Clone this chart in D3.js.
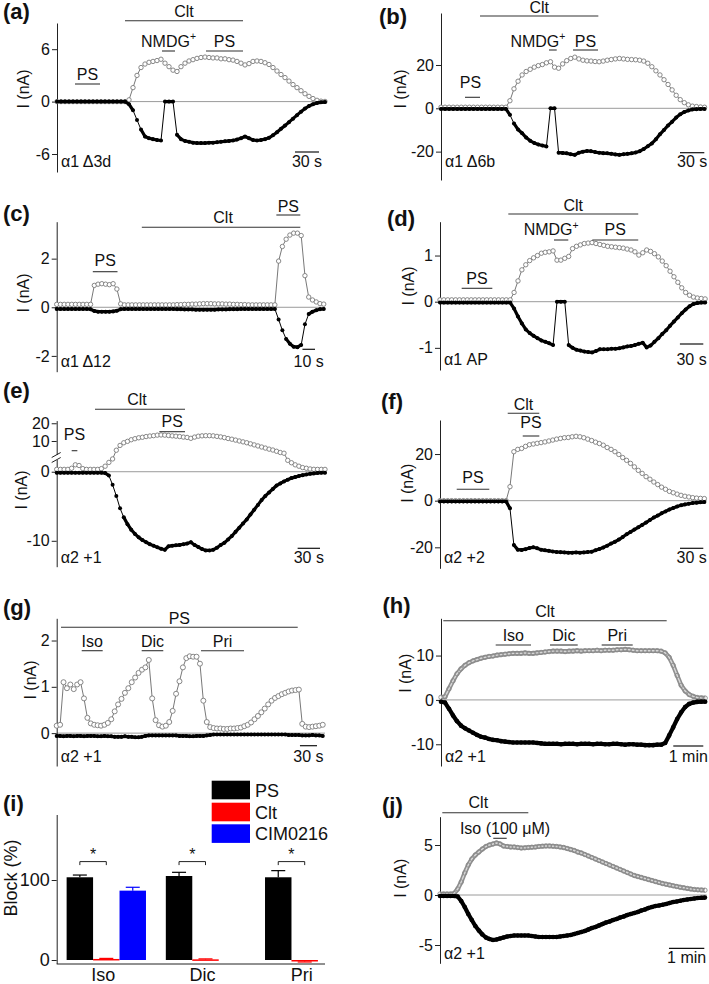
<!DOCTYPE html>
<html><head><meta charset="utf-8">
<script src="https://cdn.jsdelivr.net/npm/d3@7"></script>
<style>
body{margin:0;background:#fff}
svg{display:block}
text{font-family:"Liberation Sans",Arial,sans-serif;fill:#111}
</style>
</head><body>
<svg id="c" width="709" height="984"></svg>
<script>
// ---------------- DATA (currents in nA, sampled at a fixed step in seconds) ----------------
const aOut = [0,0,0,0,0,0,0,0,0,0, 0,0,0,0,0,0,0,0,
 0.2,1.6,3.0,3.9,4.3,4.5,4.6,4.7,4.85,4.4,
 4.0,3.6,3.45,4.0,4.4,4.65,4.8,4.95,5.05,5.1,
 5.05,5.0,5.0,4.9,4.9,4.8,4.75,4.6,4.4,4.2,
 4.35,4.6,4.65,4.6,4.45,4.25,3.9,3.5,3.1,2.75,
 2.35,1.95,1.6,1.25,0.9,0.6,0.35,0.15,0.05,0.02];
const aIn = [0,0,0,0,0,0,0,0,0,0, 0,0,0,0,0,0,0,0,
 -0.3,-1.0,-2.1,-3.2,-4.0,-4.2,-4.3,-4.4,-4.45,0,
 0,0,-3.8,-4.3,-4.5,-4.6,-4.7,-4.75,-4.75,-4.75,
 -4.7,-4.7,-4.65,-4.6,-4.55,-4.5,-4.45,-4.35,-4.2,-4.0,
 -4.2,-4.4,-4.45,-4.4,-4.3,-4.15,-3.85,-3.5,-3.1,-2.75,
 -2.35,-1.95,-1.55,-1.15,-0.8,-0.5,-0.3,-0.15,-0.08,-0.05];

const bOut = [0.5,0.5,0.5,0.5,0.5,0.5,0.5,0.5,0.5,0.5,0.5,0.5,0.5,0.5,0.5,0.5,0.5,
 3.5,9,12.5,15.4,17,18,19,19.7,20.2,21,
 21.5,19,18.5,20.5,22,23,23.6,22.8,22.2,21.9,
 21.8,21.6,21.5,21.8,22.2,22.5,22.8,23,22.8,22.6,
 22.5,22.4,22.2,21.8,20.8,19.2,17.3,15.4,13.2,11,
 8.5,6,4,2.6,1.6,1.0,0.8,0.6,0.5];
const bIn = [-0.3,-0.3,-0.3,-0.3,-0.3,-0.3,-0.3,-0.3,-0.3,-0.3,-0.3,-0.3,-0.3,-0.3,-0.3,-0.3,-0.3,
 -3,-7,-9.8,-11.5,-13.5,-15,-16,-16.7,-17.2,-17.6,
 0,0,-20.5,-20.6,-20.8,-21.2,-21.5,-20.5,-20,-19.7,
 -19.8,-20.2,-20.5,-20.7,-20.8,-21,-21.3,-21.5,-21.2,-21,
 -20.8,-20.4,-19.8,-18.8,-17.5,-16.2,-14.3,-12,-10,-7.9,
 -6.2,-4.3,-2.8,-1.7,-1,-0.5,-0.4,-0.3,-0.3];

const cOut = [0.12,0.12,0.12,0.12,0.12,0.12,0.12,0.12,0.12,0.12,
 0.9,0.95,0.97,0.95,0.93,0.97,0.75,0.14,
 0.1,0.1,0.1,0.1,0.1,0.1,0.1,0.1,0.1,0.1,0.1,0.1,0.1,0.1,
 0.11,0.11,0.12,0.12,0.13,0.13,0.14,0.15,0.15,0.15,
 0.14,0.14,0.14,0.13,0.13,0.12,0.12,0.11,0.11,0.1,
 0.1,0.1,0.1,0.1,0.1,0.1,0.1,
 1.9,2.5,2.8,2.97,3.05,3.05,2.95,1.3,0.42,0.3,0.22,0.15,0.13];
const cIn = [-0.07,-0.07,-0.07,-0.07,-0.07,-0.07,-0.07,-0.07,-0.07,
 -0.08,-0.15,-0.18,-0.18,-0.18,-0.18,-0.17,-0.14,-0.08,
 -0.07,-0.07,-0.07,-0.07,-0.07,-0.07,-0.07,-0.07,-0.07,-0.07,-0.07,-0.07,-0.07,-0.07,
 -0.08,-0.08,-0.09,-0.09,-0.09,-0.1,-0.1,-0.1,-0.1,-0.1,
 -0.1,-0.09,-0.09,-0.09,-0.08,-0.08,-0.08,-0.07,-0.07,-0.07,
 -0.07,-0.07,-0.07,-0.07,-0.07,-0.07,-0.07,
 -0.5,-0.95,-1.3,-1.5,-1.62,-1.64,-1.55,-0.7,-0.28,-0.18,-0.12,-0.08,-0.07];

const dOut = [0.04,0.04,0.04,0.04,0.04,0.04,0.04,0.04,0.04,0.04,0.04,0.04,0.04,0.04,0.04,0.04,0.04,0.04,0.04,
 0.2,0.45,0.69,0.8,0.89,0.95,1.0,1.05,1.07,1.08,
 1.1,0.9,0.9,0.94,0.98,1.15,1.2,1.23,1.26,1.27,
 1.28,1.26,1.24,1.22,1.2,1.19,1.18,1.17,1.16,1.14,
 1.12,1.08,1.01,1.06,1.12,1.09,1.04,0.97,0.88,0.78,
 0.66,0.54,0.42,0.3,0.2,0.14,0.1,0.08,0.07,0.06];
const dIn = [-0.02,-0.02,-0.02,-0.02,-0.02,-0.02,-0.02,-0.02,-0.02,-0.02,-0.02,-0.02,-0.02,-0.02,-0.02,-0.02,-0.02,-0.02,-0.02,
 -0.15,-0.32,-0.47,-0.6,-0.68,-0.74,-0.79,-0.84,-0.87,-0.9,
 -0.94,0,0,0,-0.94,-1.0,-1.04,-1.06,-1.08,-1.09,
 -1.1,-1.07,-1.03,-1.03,-1.03,-1.02,-1.02,-1.01,-0.99,-0.97,
 -0.96,-0.94,-0.91,-0.89,-0.99,-0.95,-0.87,-0.79,-0.7,-0.62,
 -0.52,-0.43,-0.34,-0.25,-0.17,-0.1,-0.05,-0.03,-0.02,-0.02];

const eOut = [0.34,0.34,0.34,0.34,0.5,1.0,0.9,0.45,0.34,0.34,
 0.34,0.34,0.45,0.8,1.35,1.85,4.8,7.5,9,9.8,
 10.7,11.3,11.8,12.1,12.5,12.8,13.0,13.3,13.4,13.3,
 13.1,12.9,12.7,12.5,12.2,12.0,11.5,12.2,12.7,12.9,
 13.0,13.0,12.9,12.6,12.3,11.9,11.4,11.0,10.5,10.0,
 9.5,9.0,8.4,7.8,7.2,6.6,6.0,5.4,4.9,4.2,
 3.5,3.1,1.65,1.3,1.0,0.8,0.6,0.5,0.4,0.35,
 0.34,0.34,0.34];
const eIn = [-0.15,-0.15,-0.15,-0.15,-0.15,-0.15,-0.15,-0.15,-0.15,-0.15,-0.15,-0.15,-0.15,
 -0.2,-0.55,-1.9,-3.5,-5.3,-6.6,-7.6,
 -8.4,-9.0,-9.5,-9.9,-10.2,-10.5,-10.7,-10.95,-11.15,-11.3,
 -10.8,-10.7,-10.65,-10.6,-10.5,-10.4,-10.2,-10.6,-10.9,-11.2,
 -11.4,-11.4,-11.3,-11.0,-10.6,-10.3,-9.8,-9.3,-8.7,-8.1,
 -7.5,-6.9,-6.2,-5.5,-4.8,-4.1,-3.5,-3.0,-2.5,-2.0,
 -1.7,-1.4,-1.15,-0.92,-0.78,-0.62,-0.5,-0.4,-0.3,-0.24,
 -0.18,-0.15,-0.15];

const fOut = [0,0,0,0,0,0,0,0,0,0,0,0,0,0,0,0,0,0,
 6,21,22,22.4,23.3,24,24.3,24.6,24.9,25.2,
 25.6,26,26.4,26.7,27,27.1,27.4,27.6,27.4,27,
 26.4,25.8,25.1,24.5,23.8,22.8,22,21,19.8,18.5,
 17.3,16,14.5,13,11.7,10.3,9.2,8,6.9,5.8,
 4.9,4,3.4,2.8,2.3,1.9,1.6,1.3,1.1,1.0,
 0.9];
const fIn = [-0.3,-0.3,-0.3,-0.3,-0.3,-0.3,-0.3,-0.3,-0.3,-0.3,-0.3,-0.3,-0.3,-0.3,-0.3,-0.3,-0.3,-0.3,
 -3.3,-19,-21,-21.1,-20.8,-20.3,-20,-20.4,-21,-21.3,
 -21.5,-21.8,-22,-22.1,-22.2,-22.3,-22.3,-22.2,-22.3,-22.2,
 -22,-21.9,-21.3,-20.7,-20.1,-19.3,-18.4,-17.6,-16.7,-15.6,
 -14.4,-13.4,-12.4,-11.4,-10.4,-9.4,-8.3,-7.2,-6.4,-5.4,
 -4.6,-3.8,-3.1,-2.5,-2.0,-1.6,-1.3,-1.0,-0.85,-0.7,
 -0.6];

const gOut = [0.16,0.18,1.1,0.97,1.05,0.95,1.05,1.1,0.75,0.33,
 0.21,0.18,0.17,0.16,0.18,0.22,0.3,0.47,0.62,0.74,
 0.87,0.97,1.1,1.2,1.3,1.37,1.42,1.58,0.75,0.28,
 0.17,0.14,0.16,0.24,0.48,0.85,1.12,1.42,1.62,1.66,
 1.65,1.65,1.5,0.7,0.24,0.13,0.11,0.1,0.1,0.09,
 0.09,0.1,0.1,0.11,0.12,0.15,0.18,0.23,0.3,0.37,
 0.45,0.53,0.62,0.7,0.76,0.8,0.84,0.87,0.9,0.92,
 0.93,0.94,0.2,0.14,0.13,0.14,0.15,0.16,0.18];
const gIn = [-0.06,-0.06,-0.07,-0.06,-0.06,-0.07,-0.06,-0.06,-0.07,-0.06,
 -0.06,-0.06,-0.07,-0.07,-0.06,-0.07,-0.07,-0.08,-0.08,-0.08,
 -0.07,-0.08,-0.08,-0.09,-0.09,-0.08,-0.06,-0.05,-0.05,-0.05,
 -0.05,-0.05,-0.05,-0.05,-0.05,-0.05,-0.06,-0.06,-0.06,-0.07,
 -0.07,-0.06,-0.06,-0.06,-0.05,-0.04,-0.03,-0.03,-0.03,-0.03,
 -0.03,-0.03,-0.03,-0.03,-0.03,-0.03,-0.03,-0.03,-0.03,-0.03,
 -0.03,-0.03,-0.03,-0.03,-0.03,-0.03,-0.03,-0.03,-0.04,-0.04,
 -0.04,-0.04,-0.05,-0.05,-0.05,-0.04,-0.05,-0.05,-0.06];

const hOut = [0.6,0.7,2.5,4.3,5.9,7,7.8,8.4,8.8,9.1,
 9.4,9.6,9.8,9.9,10.1,10.2,10.3,10.4,10.5,10.5,
 10.5,10.6,10.5,10.5,10.6,10.7,10.8,10.9,11,11,
 11,10.9,11,11,11.1,11,11.1,11.1,11.1,11.2,
 11.1,11.2,11.2,11.2,11.3,11.3,11.4,11.3,11.2,11.1,
 11.1,11.1,11.1,11.1,11.1,11,10.6,9.6,7.8,5.5,
 3.3,2,1.2,0.8,0.55,0.45,0.4];
const hIn = [-0.4,-0.6,-2,-3.5,-4.8,-5.8,-6.4,-6.9,-7.4,-7.9,
 -8.3,-8.5,-8.8,-9,-9.1,-9.3,-9.4,-9.5,-9.6,-9.6,
 -9.6,-9.6,-9.6,-9.6,-9.7,-9.8,-9.9,-9.9,-9.9,-9.9,
 -10,-9.9,-9.9,-9.9,-10,-9.9,-9.9,-9.9,-10,-9.9,
 -9.9,-10,-10,-9.9,-9.9,-10,-10.1,-10,-10,-10.1,
 -10.1,-10.2,-10.2,-10.2,-10.1,-10.1,-9.7,-8,-6.2,-4.3,
 -2.8,-1.6,-0.9,-0.6,-0.45,-0.4,-0.4];

const jOut = [0.1,0.1,0.1,0.1,0.15,0.6,1.3,2.2,3.0,3.6,
 4.0,4.3,4.6,4.85,5.0,5.1,5.2,5.1,4.9,4.85,
 4.8,4.8,4.75,4.7,4.72,4.75,4.78,4.8,4.85,4.88,
 4.9,4.9,4.88,4.85,4.8,4.75,4.65,4.55,4.45,4.3,
 4.2,4.05,3.9,3.75,3.6,3.45,3.3,3.15,3.0,2.85,
 2.7,2.55,2.4,2.25,2.1,1.95,1.85,1.75,1.65,1.55,
 1.45,1.35,1.25,1.15,1.08,1.0,0.92,0.85,0.78,0.72,
 0.66,0.6,0.55,0.52,0.5,0.48];
const jIn = [-0.1,-0.1,-0.1,-0.1,-0.1,-0.15,-0.6,-1.2,-1.9,-2.5,
 -3.1,-3.55,-3.95,-4.25,-4.4,-4.5,-4.45,-4.35,-4.25,-4.15,
 -4.1,-4.05,-4.05,-4.05,-4.05,-4.05,-4.1,-4.15,-4.2,-4.2,
 -4.2,-4.2,-4.2,-4.2,-4.15,-4.1,-4.05,-4.0,-3.9,-3.8,
 -3.7,-3.6,-3.45,-3.3,-3.2,-3.05,-2.9,-2.75,-2.65,-2.5,
 -2.4,-2.25,-2.15,-2.0,-1.9,-1.8,-1.7,-1.55,-1.45,-1.3,
 -1.2,-1.1,-1.05,-0.98,-0.9,-0.8,-0.7,-0.65,-0.58,-0.5,
 -0.45,-0.4,-0.35,-0.3,-0.28,-0.26];

// drug applications: [label, start (s), end (s)]
const drugsA = [["Clt",85,232.5],["NMDG+",131.25,147.5],["PS",186.25,232.5],["PS",22.5,53.75]];
const drugsB = [["Clt",48.1,194],["NMDG+",133.2,142.7],["PS",162.8,193.6],["PS",29.6,48.1]];
const drugsC = [["PS",28.8,48.5],["Clt",67.9,194.3],["PS",175.2,194.3]];
const drugsD = [["Clt",87.6,254.2],["NMDG+",146.2,164.5],["PS",195.3,254.2],["PS",27.8,67.1]];
const drugsE = [["Clt",51.4,172.2],["PS",137.7,172.2],["PS",20.1,27.7]];
const drugsF = [["Clt",87.1,127.7],["PS",106.4,127.7],["PS",21.5,63.4]];
const drugsG = [["PS",7.6,424],["Iso",44,80.9],["Dic",149.5,187.5],["Pri",253.9,329.5]];
const drugsH = [["Clt",4.6,451],["Iso",109.3,179.9],["Dic",217.8,273.2],["Pri",321.1,383.1]];
const drugsJ = [["Clt",3.9,150],["Iso (100 \u03bcM)",90.5,113.3]];

const traceNames = ["\u03b11 \u03943d","\u03b11 \u03946b","\u03b11 \u039412","\u03b11 AP","\u03b12 +1","\u03b12 +2","\u03b12 +1","\u03b12 +1","\u03b12 +1"];
const yTicksA=[-6,0,6], yTicksB=[-20,0,20], yTicksC=[-2,0,2], yTicksD=[-1,0,1], yTicksE=[-10,0,10,20],
      yTicksF=[-20,0,20], yTicksG=[0,1,2], yTicksH=[-10,0,10], yTicksJ=[-5,0,5];

// panel (i)
const blockCats = ["Iso","Dic","Pri"];
const blockSeries = ["PS","Clt","CIM0216"];
const blockPS = [103.4,105,103.4];
const blockClt = [1.3,0.8,-1.8];
const blockCIM = [86.7,null,null];
const errPS = [2.8,4.6,8.3];
const errClt = [0.7,0.6,0.7];
const errCIM = [4.2,null,null];
const blockTicks = [0,100];

// ---------------- LAYOUT ----------------
const FONT = '"Liberation Sans",Arial,sans-serif';
const FS = 16;
const svg = d3.select("#c");

const panels = [
 {tag:"(a)",tagXY:[3,19],ax:57,top:23,bot:172,xEnd:325,T:335,step:5,yDom:[-8.06,9.0],ticks:yTicksA,ylab:[23,89],
  out:aOut,inn:aIn,drugs:drugsA,rows:[[20.7,17,0],[51,46.7,0],[51,46.7,0],[84,80,0]],
  sb:[319,152,167,30,"30 s"],name:[traceNames[0],167]},
 {tag:"(b)",tagXY:[379,24],ax:441,top:13,bot:180,xEnd:707,T:328,step:5,yDom:[-33.1,44],ticks:yTicksB,ylab:[400,89],
  out:bOut,inn:bIn,drugs:drugsB,rows:[[16,12.7,0],[50,46.7,-15],[50,46.7,0],[97.3,88.3,-2]],
  sb:[704.3,152.7,167,30,"30 s"],name:[traceNames[1],167]},
 {tag:"(c)",tagXY:[3,221],ax:56.7,top:221.7,bot:371.7,xEnd:325,T:214,step:3,yDom:[-2.65,3.52],ticks:yTicksC,ylab:[23,293],
  out:cOut,inn:cIn,drugs:drugsC,rows:[[271.7,266,0],[227.3,223.3,2],[215,211.7,0]],
  sb:[315,349.3,366.7,10,"10 s"],name:[traceNames[2],366.7]},
 {tag:"(d)",tagXY:[387,226],ax:440,top:221.7,bot:370,xEnd:706.7,T:342,step:5,yDom:[-1.48,1.733],ticks:yTicksD,ylab:[408,286],
  out:dOut,inn:dIn,drugs:drugsD,rows:[[214,211,0],[240,235,-10],[240,235,0],[288.3,284.3,0]],
  sb:[703.3,344,365,30,"30 s"],name:[traceNames[3],365]},
 {tag:"(e)",tagXY:[3,397.5],ax:56.7,top:420,bot:566.7,xEnd:325,T:360,step:5,
  yScale:d3.scaleLinear().domain([-13.75,1.9,3,21.5]).range([566.7,458.6,453.4,420.6]),ticks:yTicksE,ylab:[21.7,490],
  out:eOut,inn:eIn,drugs:drugsE,rows:[[409.3,405,-3],[431.7,426.7,0],[450.7,440,0]],
  sb:[320,548.3,563.3,30,"30 s"],name:[traceNames[4],563.3],brk:457.5},
 {tag:"(f)",tagXY:[381,409],ax:440,top:420,bot:568.3,xEnd:706.7,T:343,step:5,yDom:[-29,34.6],ticks:yTicksF,ylab:[407.7,483.3],
  out:fOut,inn:fIn,drugs:drugsF,rows:[[413.3,410,0],[436,428.3,0],[489.3,483.3,0]],
  sb:[703.3,548.3,563.3,30,"30 s"],name:[traceNames[5],563.3]},
 {tag:"(g)",tagXY:[3,615],ax:56.7,top:618.3,bot:766,xEnd:325,T:472,step:6,yDom:[-0.71,2.48],ticks:yTicksG,ylab:[30,680],
  out:gOut,inn:gIn,drugs:drugsG,rows:[[627.3,624,0],[650.7,647.3,0],[650.7,647.3,0],[650.7,647.3,0]],
  sb:[317,745.7,762,30,"30 s"],name:[traceNames[6],762],openR:2.5},
 {tag:"(h)",tagXY:[382.5,613],ax:441,top:618.3,bot:766,xEnd:706.7,T:531,step:8,yDom:[-14.9,18.4],ticks:yTicksH,ylab:[405,673.3],
  out:hOut,inn:hIn,drugs:drugsH,rows:[[620.7,616.7,-10],[645,640.7,0],[645,640.7,0],[645,640.7,0]],
  sb:[703.3,746,762,60,"1 min"],name:[traceNames[7],762],band:true},
 {tag:"(j)",tagXY:[382,813.3],ax:440,top:816.7,bot:963.3,xEnd:706.7,T:453,step:6,yDom:[-6.83,7.83],ticks:yTicksJ,ylab:[400,878.3],
  out:jOut,inn:jIn,drugs:drugsJ,rows:[[812.7,808.3,-7],[838.3,834,5]],
  sb:[704.3,948.3,963.3,60,"1 min"],name:[traceNames[8],959.3],band:true}
];

function txt(g, s, x, y, size, anchor, weight) {
  const t = g.append("text").attr("x",x).attr("y",y).attr("font-size",size)
    .attr("text-anchor",anchor||"start").attr("font-family",FONT);
  if (weight) t.attr("font-weight",weight);
  if (s.endsWith("+") && s.length > 1) {
    t.append("tspan").text(s.slice(0,-1));
    t.append("tspan").attr("font-size",size*0.65).attr("dy",-size*0.4).text("+");
  } else t.text(s);
  return t;
}

function drawTrace(P) {
  const g = svg.append("g");
  const x = d3.scaleLinear().domain([0,P.T]).range([P.ax,P.xEnd]);
  const y = P.yScale || d3.scaleLinear().domain(P.yDom).range([P.bot,P.top]);

  // zero line
  g.append("line").attr("x1",P.ax).attr("x2",P.xEnd).attr("y1",y(0)).attr("y2",y(0))
    .attr("stroke","#9a9a9a").attr("stroke-width",1);

  // axis
  const ag = g.append("g").attr("transform",`translate(${P.ax},0)`)
    .call(d3.axisLeft(y).tickValues(P.ticks).tickSize(5).tickSizeOuter(0).tickPadding(2).tickFormat(d=>String(d)));
  ag.attr("font-size",FS).attr("font-family",FONT).attr("color","#222");
  ag.selectAll("text").attr("fill","#111");
  if (P.brk) {
    g.append("rect").attr("x",P.ax-6).attr("y",P.brk-2.5).attr("width",10).attr("height",5).attr("fill","#fff");
    [-2.5,2.5].forEach(o=>g.append("line").attr("x1",P.ax-5).attr("x2",P.ax+4)
      .attr("y1",P.brk+o+2.5).attr("y2",P.brk+o-2.5).attr("stroke","#222").attr("stroke-width",1));
  }

  // y label
  g.append("text").attr("transform",`translate(${P.ylab[0]},${P.ylab[1]}) rotate(-90)`)
    .attr("text-anchor","middle").attr("dy","0.35em").attr("font-size",FS).attr("font-family",FONT).text("I (nA)");

  // series
  const line = d3.line().x(d=>x(d[0])).y(d=>y(d[1]));
  const outPts = P.out.map((v,i)=>[i*P.step,v]);
  const inPts = P.inn.map((v,i)=>[i*P.step,v]);
  const rO = P.openR || 2.2;
  if (P.band) {
    g.append("path").datum(outPts).attr("d",line).attr("fill","none").attr("stroke","#8f8f8f").attr("stroke-width",4.6);
    g.append("path").datum(outPts).attr("d",line).attr("fill","none").attr("stroke","#d8d8d8").attr("stroke-width",1.4);
    g.append("g").selectAll("circle").data(outPts).join("circle")
      .attr("cx",d=>x(d[0])).attr("cy",d=>y(d[1])).attr("r",2.2)
      .attr("fill","none").attr("stroke","#8a8a8a").attr("stroke-width",0.9);
    g.append("path").datum(inPts).attr("d",line).attr("fill","none").attr("stroke","#000").attr("stroke-width",4.2)
      .attr("stroke-linejoin","round");
  } else {
    g.append("path").datum(outPts).attr("d",line).attr("fill","none").attr("stroke","#555").attr("stroke-width",0.8);
    g.append("g").selectAll("circle").data(outPts).join("circle")
      .attr("cx",d=>x(d[0])).attr("cy",d=>y(d[1])).attr("r",rO)
      .attr("fill","#fff").attr("stroke","#7a7a7a").attr("stroke-width",0.9);
    g.append("path").datum(inPts).attr("d",line).attr("fill","none").attr("stroke","#000").attr("stroke-width",1)
      .attr("stroke-linejoin","round");
    // thick trace where samples are adjacent (continuous appearance)
    const thick = d3.line().defined((d,i)=>true).x(d=>x(d[0])).y(d=>y(d[1]));
    const segs = [];
    for (let i=1;i<inPts.length;i++){
      const dy = Math.abs(y(inPts[i][1])-y(inPts[i-1][1]));
      if (dy < 8) segs.push([inPts[i-1],inPts[i]]);
    }
    g.append("g").selectAll("path").data(segs).join("path").attr("d",thick).attr("fill","none")
      .attr("stroke","#000").attr("stroke-width",3.2).attr("stroke-linecap","round");
  }
  g.append("g").selectAll("circle").data(inPts).join("circle")
    .attr("cx",d=>x(d[0])).attr("cy",d=>y(d[1])).attr("r",P.band?2.3:2.0).attr("fill","#000");

  // drug bars
  P.drugs.forEach((d,i)=>{
    const r = P.rows[i];
    g.append("line").attr("x1",x(d[1])).attr("x2",x(d[2])).attr("y1",r[0]).attr("y2",r[0])
      .attr("stroke","#333").attr("stroke-width",1.1);
    txt(g, d[0], (x(d[1])+x(d[2]))/2 + r[2], r[1], FS, "middle");
  });

  // scale bar
  const sb = P.sb, len = x(sb[3]) - x(0);
  g.append("line").attr("x1",sb[0]-len).attr("x2",sb[0]).attr("y1",sb[1]).attr("y2",sb[1])
    .attr("stroke","#111").attr("stroke-width",1.2);
  txt(g, sb[4], sb[0]-len/2, sb[2], FS, "middle");

  // trace name
  txt(g, P.name[0], P.ax+4, P.name[1], FS, "start");
  // panel tag
  txt(svg, P.tag, P.tagXY[0], P.tagXY[1], 22, "start", "bold");
}
panels.forEach(drawTrace);

// ---------------- PANEL (i) ----------------
(function(){
  const g = svg.append("g");
  const ax = 56.7, xEnd = 325, top = 815, bot = 964;
  const y = d3.scaleLinear().domain([-5,181.25]).range([bot,top]);
  const x0 = d3.scaleBand().domain(blockCats).range([ax, 354.3]).paddingInner(0.2).paddingOuter(0.1);
  const x1 = d3.scaleBand().domain(blockSeries).range([0, x0.bandwidth()]);
  const colors = {"PS":"#000","Clt":"#ff0000","CIM0216":"#0000ff"};
  const vals = {"PS":blockPS,"Clt":blockClt,"CIM0216":blockCIM};
  const errs = {"PS":errPS,"Clt":errClt,"CIM0216":errCIM};

  blockSeries.forEach(s=>{
    blockCats.forEach((c,i)=>{
      const v = vals[s][i]; if (v==null) return;
      const bx = x0(c)+x1(s), bw = x1.bandwidth();
      const yt = y(Math.max(v,0)), yb = y(Math.min(v,0));
      const e = errs[s][i];
      const ey = v>=0 ? y(v+e) : y(v-e);
      g.append("line").attr("x1",bx+bw/2).attr("x2",bx+bw/2).attr("y1",y(v)).attr("y2",ey).attr("stroke",colors[s]).attr("stroke-width",1.2);
      g.append("line").attr("x1",bx+bw/2-7).attr("x2",bx+bw/2+7).attr("y1",ey).attr("y2",ey).attr("stroke",colors[s]).attr("stroke-width",1.2);
      g.append("rect").attr("x",bx).attr("y",yt).attr("width",bw).attr("height",Math.max(yb-yt,1.5)).attr("fill",colors[s]);
    });
  });

  // significance brackets
  blockCats.forEach(c=>{
    const xa = x0(c)+x1("PS")+x1.bandwidth()/2, xb = x0(c)+x1("Clt")+x1.bandwidth()/2;
    const yb = y(123);
    g.append("path").attr("d",`M${xa},${yb+3.5}V${yb}H${xb}V${yb+3.5}`).attr("fill","none").attr("stroke","#222").attr("stroke-width",1);
    txt(g,"*",(xa+xb)/2,yb-2,16,"middle");
  });

  // axes
  const ag = g.append("g").attr("transform",`translate(${ax},0)`)
    .call(d3.axisLeft(y).tickValues(blockTicks).tickSize(5).tickSizeOuter(0).tickPadding(2));
  ag.attr("font-size",18).attr("font-family",FONT).attr("color","#222");
  ag.select(".domain").attr("d",`M0.5,${top}V${bot}`);
  g.append("line").attr("x1",ax).attr("x2",xEnd).attr("y1",bot).attr("y2",bot).attr("stroke","#222");
  blockCats.forEach(c=>txt(g,c,x0(c)+x0.bandwidth()/2-3,981,18,"middle"));
  g.append("text").attr("transform","translate(11,878) rotate(-90)").attr("text-anchor","middle")
    .attr("dy","0.35em").attr("font-size",18).attr("font-family",FONT).text("Block (%)");

  // legend
  const ly = [780.7,802.7,824.3];
  blockSeries.forEach((s,i)=>{
    g.append("rect").attr("x",211.7).attr("y",ly[i]).attr("width",38.3).attr("height",18.6).attr("fill",colors[s]);
    txt(g,s,255,ly[i]+16,18,"start");
  });
  txt(svg,"(i)",3,811,22,"start","bold");
})();
</script>
</body></html>
